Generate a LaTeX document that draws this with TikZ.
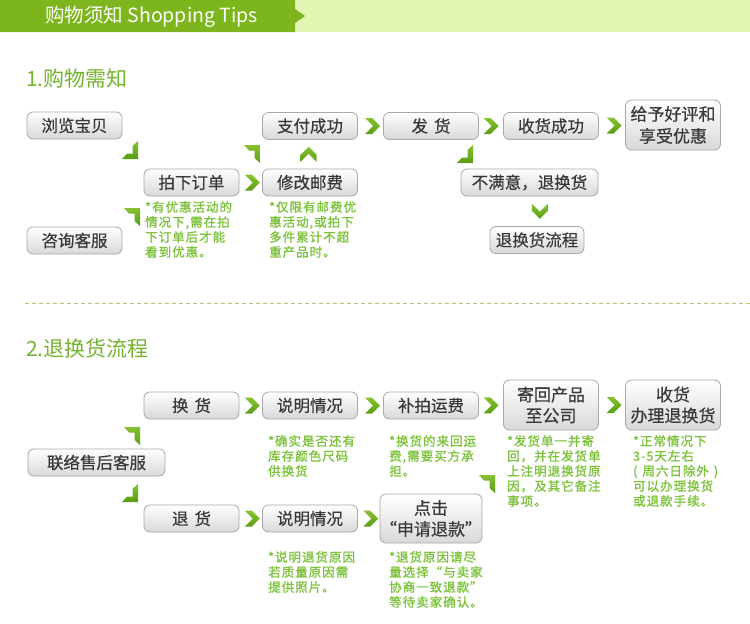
\documentclass[tikz,border=0pt]{standalone}
\usepackage{fontspec}
\setmainfont{Noto Sans CJK SC}
\newfontfamily\cjknote[LetterSpace=8,FakeBold=1.2]{Noto Sans CJK SC}
\newfontfamily\cjkbox[FakeBold=0.4]{Noto Sans CJK SC}
\usetikzlibrary{calc}
\definecolor{hdgreen}{HTML}{7DB51C}
\definecolor{hdlight}{HTML}{E2F5B2}
\definecolor{titlegreen}{HTML}{74B32C}
\definecolor{notegreen}{HTML}{7CC23A}
\definecolor{chevlight}{HTML}{86C232}
\definecolor{chevdark}{HTML}{5A9E14}
\definecolor{boxborder}{HTML}{A8A8A8}
\definecolor{boxbottom}{HTML}{D8D8D8}
\definecolor{boxtext}{HTML}{383838}
\definecolor{dashgreen}{HTML}{A9CE6B}
\tikzset{
  box/.style={draw=boxborder, line width=0.8pt, rounded corners=6pt, top color=white, bottom color=boxbottom,
    minimum width=95pt, minimum height=27pt, inner sep=0pt, text=boxtext,
    font=\cjkbox\fontsize{16.5}{19}\selectfont, align=center},
  tallbox/.style={box, minimum height=50pt, font=\cjkbox\fontsize{17}{21}\selectfont},
  note/.style={anchor=north west, inner sep=0pt, align=left, text=notegreen,
    font=\cjknote\fontsize{12.5}{15}\selectfont},
  chevfill/.style={top color=chevlight, bottom color=chevdark, draw=none},
  chev/.pic={\path[chevfill] (-7.5,-8) -- (-0.5,-8) -- (7.5,0) -- (-0.5,8) -- (-7.5,8) -- (0.5,0) -- cycle;},
  chevse/.pic={\path[chevfill] (0,-18) -- (0,0) -- (-16,0) -- (-11,-5.5) -- (-5.5,-5.5) -- (-5.5,-13) -- cycle;},
  chevne/.pic={\path[chevfill] (-16,0) -- (0,0) -- (0,18) -- (-5.5,13) -- (-5.5,5.5) -- (-11,5.5) -- cycle;},
  sectitle/.style={anchor=west, inner sep=0pt, text=titlegreen, font=\fontsize{21}{24}\selectfont},
}
\begin{document}
\begin{tikzpicture}[x=1pt,y=-1pt]
\useasboundingbox (0,0) rectangle (750,624);
\fill[white] (0,0) rectangle (750,624);
% header
\fill[hdlight] (295,0) rectangle (750,32);
\fill[hdgreen] (0,0) -- (295,0) -- (295,9) -- (305,16) -- (295,23) -- (295,32) -- (0,32) -- cycle;
\node[anchor=west, inner sep=0pt, text=white, font=\fontsize{19.5}{22}\selectfont] (hd) at (45,16.5) {购物须知 Shopping Tips};
% section 1
\node[sectitle] (t1) at (26,79) {1.购物需知};
\node[box] (lan) at (74.5,125.5) {浏览宝贝};
\node[box] (zx) at (74.5,240.5) {咨询客服};
\node[box] (pd) at (191.5,182.5) {拍下订单};
\node[box] (zf) at (310,126) {支付成功};
\node[box] (xg) at (310,182.5) {修改邮费};
\node[box] (fh) at (431,126) {发\hspace{6pt}货};
\node[box] (sh) at (551,126) {收货成功};
\node[tallbox, font=\cjkbox\fontsize{17}{22}\selectfont] (hp) at (673,125) {给予好评和\\享受优惠};
\node[box, minimum width=137pt] (bm) at (529.5,182.5) {不满意，退换货};
\node[box, minimum width=94pt] (th) at (537,240) {退换货流程};
\node[note] (n1) at (145,201) {*有优惠活动的\\情况下,需在拍\\下订单后才能\\看到优惠。};
\node[note] (n2) at (269,201) {*仅限有邮费优\\惠活动,或拍下\\多件累计不超\\重产品时。};
% chevrons section 1
\pic at (138,159) {chevse};
\pic at (140,208) {chevne};
\pic at (260,145) {chevne};
\pic at ($(pd.east)!0.5!(xg.west)+(1.5,0)$) {chev};
\pic[rotate=90] at ($(zf.south)!0.5!(xg.north)+(-1.5,0)$) {chev};
\pic at ($(zf.east)!0.5!(fh.west)+(2,0)$) {chev};
\pic at ($(fh.east)!0.5!(sh.west)+(0,0)$) {chev};
\pic at ($(sh.east)!0.5!(hp.west)+(2,0)$) {chev};
\pic at (473,163) {chevse};
\pic[rotate=-90] at ($(bm.south)!0.5!(th.north)+(6.5,0)$) {chev};
% divider
\draw[dashgreen, line width=1pt, dash pattern=on 4pt off 3pt] (25,303) -- (750,303);
% section 2
\node[sectitle] (t2) at (26,348) {2.退换货流程};
\node[box, minimum width=137pt] (lx) at (96.5,462.5) {联络售后客服};
\node[box] (hh) at (191.5,405.5) {换\hspace{6pt}货};
\node[box] (sm1) at (310,405.5) {说明情况};
\node[box] (bp) at (431,405.5) {补拍运费};
\node[tallbox] (jh) at (551,405) {寄回产品\\至公司};
\node[tallbox] (sb) at (673,405) {收货\\办理退换货};
\node[box] (tuih) at (191.5,518.5) {退\hspace{6pt}货};
\node[box] (sm2) at (310,518.5) {说明情况};
\node[tallbox, minimum height=49pt] (dj) at (431,518.5) {点击\\“申请退款”};
\node[note] (n3) at (268,435) {*确实是否还有\\库存颜色尺码\\供换货};
\node[note] (n4) at (389,435) {*换货的来回运\\费,需要买方承\\担。};
\node[note] (n5) at (507,435) {*发货单一并寄\\回，并在发货单\\上注明退换货原\\因，及其它备注\\事项。};
\node[note] (n6) at (633,435) {*正常情况下\\3-5天左右\\(\hspace{5pt}周六日除外\hspace{5pt})\\可以办理换货\\或退款手续。};
\node[note] (n7) at (268,551) {*说明退货原因\\若质量原因需\\提供照片。};
\node[note] (n8) at (389,551) {*退货原因请尽\\量选择“与卖家\\协商一致退款”\\等待卖家确认。};
% chevrons section 2
\pic at (140,427) {chevne};
\pic at (138,502) {chevse};
\pic at ($(hh.east)!0.5!(sm1.west)+(1.5,0)$) {chev};
\pic at ($(sm1.east)!0.5!(bp.west)+(2,0)$) {chev};
\pic at ($(bp.east)!0.5!(jh.west)+(0,0)$) {chev};
\pic at ($(jh.east)!0.5!(sb.west)+(2,0)$) {chev};
\pic at ($(tuih.east)!0.5!(sm2.west)+(1.5,0)$) {chev};
\pic at ($(sm2.east)!0.5!(dj.west)+(2,0)$) {chev};
\pic at (495,475) {chevne};
\end{tikzpicture}
\end{document}
